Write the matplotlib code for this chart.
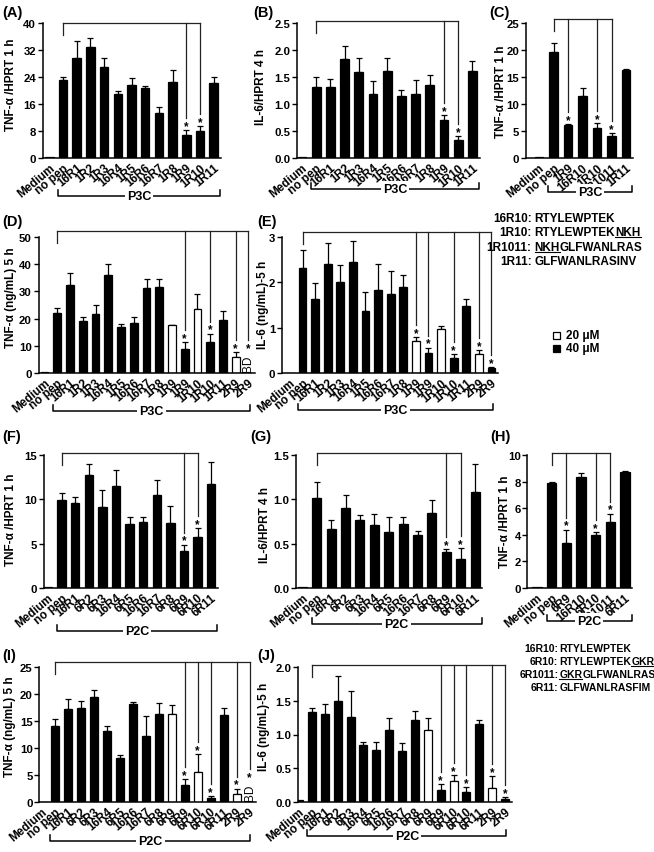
import numpy as np
import matplotlib
matplotlib.use("Agg")
import matplotlib.pyplot as plt
from matplotlib.patches import Rectangle
from matplotlib.lines import Line2D

plt.rcParams['font.family'] = ['Liberation Sans', 'DejaVu Sans']
plt.rcParams['font.weight'] = 'bold'

# ---------------- data ----------------
A_labels = ["Medium", "no pep", "16R1", "1R2", "1R3", "16R4", "1R5", "16R6", "16R7", "1R8", "1R9", "1R10", "1R11"]
A_mean = [0.2, 23.2, 29.6, 32.8, 27.1, 19.1, 21.6, 20.6, 13.2, 22.6, 6.7, 7.9, 22.2]
A_err = [0, 0.8, 5.0, 2.7, 2.6, 0.8, 2.1, 0.8, 2.0, 3.6, 1.6, 1.5, 1.9]
A_sig = [10, 11]

B_labels = A_labels
B_mean = [0.01, 1.32, 1.32, 1.83, 1.60, 1.19, 1.61, 1.15, 1.18, 1.36, 0.70, 0.33, 1.61]
B_err = [0, 0.18, 0.15, 0.25, 0.26, 0.24, 0.25, 0.11, 0.27, 0.18, 0.09, 0.08, 0.19]
B_sig = [10, 11]

C_labels = ["Medium", "no pep", "1R9", "16R10", "1R10", "1R1011", "1R11"]
C_mean = [0.1, 19.7, 6.1, 11.4, 5.6, 4.1, 16.3]
C_err = [0, 1.6, 0.25, 1.5, 0.8, 0.5, 0.1]
C_sig = [2, 4, 5]

D_labels = ["Medium", "no pep", "16R1", "1R2", "1R3", "16R4", "1R5", "16R6", "16R7", "1R8",
            "1R9", "1R9", "1R10", "1R10", "1R11", "2R9", "2R9"]
D_mean = [0.3, 22.0, 32.5, 19.2, 21.6, 35.9, 16.9, 18.5, 31.3, 31.6, 17.5, 8.7, 23.6, 11.3, 19.6, 5.9, 0]
D_err = [0, 2.0, 4.4, 1.4, 3.5, 4.3, 1.2, 2.0, 3.1, 2.8, 0.1, 2.7, 5.3, 3.2, 3.2, 1.7, 0]
D_20uM = [10, 12, 15]
D_sig = [11, 13, 15, 16]
D_bd = [16]

E_labels = D_labels
E_mean = [0.01, 2.32, 1.64, 2.41, 2.01, 2.44, 1.36, 1.82, 1.75, 1.90, 0.70, 0.44, 0.96, 0.33, 1.48, 0.43, 0.10]
E_err = [0, 0.39, 0.35, 0.46, 0.37, 0.48, 0.43, 0.58, 0.51, 0.27, 0.09, 0.12, 0.07, 0.08, 0.16, 0.07, 0.03]
E_20uM = [10, 12, 15]
E_sig = [10, 11, 13, 15, 16]

F_labels = ["Medium", "no pep", "16R1", "6R2", "6R3", "16R4", "6R5", "16R6", "16R7", "6R8", "6R9", "6R10", "6R11"]
F_mean = [0.1, 9.9, 9.6, 12.7, 9.1, 11.5, 7.2, 7.5, 10.5, 7.3, 4.2, 5.8, 11.7]
F_err = [0, 0.8, 0.7, 1.3, 2.0, 1.8, 0.8, 0.5, 1.7, 1.9, 0.7, 1.0, 2.5]
F_sig = [10, 11]

G_labels = F_labels
G_mean = [0.01, 1.02, 0.67, 0.90, 0.77, 0.71, 0.63, 0.72, 0.60, 0.85, 0.41, 0.33, 1.08]
G_err = [0, 0.17, 0.10, 0.15, 0.05, 0.12, 0.17, 0.08, 0.04, 0.14, 0.03, 0.12, 0.32]
G_sig = [10, 11]

H_labels = ["Medium", "no pep", "6R9", "16R10", "6R10", "6R1011", "6R11"]
H_mean = [0.05, 7.93, 3.39, 8.33, 3.99, 4.99, 8.75]
H_err = [0, 0.05, 1.0, 0.35, 0.2, 0.6, 0.05]
H_sig = [2, 4, 5]

I_labels = ["Medium", "no pep", "16R1", "6R2", "6R3", "16R4", "6R5", "16R6", "16R7", "6R8",
            "6R9", "6R9", "6R10", "6R10", "6R11", "2R9", "2R9"]
I_mean = [0, 14.0, 17.2, 17.5, 19.4, 13.1, 8.1, 18.2, 12.3, 16.3, 16.3, 3.1, 5.5, 0.7, 16.2, 1.55, 0]
I_err = [0, 1.3, 1.8, 1.2, 1.3, 1.0, 0.6, 0.4, 3.6, 2.0, 1.7, 1.2, 3.3, 0.4, 1.2, 0.95, 0]
I_20uM = [10, 12, 15]
I_sig = [11, 12, 13, 15, 16]
I_bd = [16]

J_labels = I_labels
J_mean = [0.03, 1.34, 1.31, 1.50, 1.26, 0.84, 0.77, 1.07, 0.75, 1.21, 1.07, 0.18, 0.31, 0.15, 1.15, 0.21, 0.05]
J_err = [0, 0.05, 0.14, 0.36, 0.38, 0.05, 0.12, 0.18, 0.12, 0.14, 0.18, 0.08, 0.09, 0.07, 0.07, 0.18, 0.02]
J_20uM = [10, 12, 15]
J_sig = [11, 12, 13, 15, 16]

P3C_seqs = [("16R10", [("RTYLEWPTEK", False)]),
            ("1R10", [("RTYLEWPTEK", False), ("NKH", True)]),
            ("1R1011", [("NKH", True), ("GLFWANLRAS", False)]),
            ("1R11", [("GLFWANLRASINV", False)])]
P2C_seqs = [("16R10", [("RTYLEWPTEK", False)]),
            ("6R10", [("RTYLEWPTEK", False), ("GKR", True)]),
            ("6R1011", [("GKR", True), ("GLFWANLRAS", False)]),
            ("6R11", [("GLFWANLRASFIM", False)])]

# ---------------- drawing ----------------
W, H = 654, 853
fig = plt.figure(figsize=(W / 100, H / 100), dpi=100)


def fx(x): return x / W
def fy(y): return 1 - y / H


def panel(tag, tagpos, labels, mean, err, ymax, ystep, ylabel, lab_xy, geom, sig,
          open_idx=(), bd=(), treat="P3C", top_off=2, br_y=38, br_r=None, fmt="{:g}"):
    spine, c0, sp, top, bottom = geom
    n = len(labels)
    x0 = -(c0 - spine) / sp
    x1 = n - 0.5
    wpx = (x1 - x0) * sp
    hpx = bottom - top
    ax = fig.add_axes([fx(spine), fy(bottom), wpx / W, hpx / H])
    dpp = ymax / hpx  # data units per pixel
    x = np.arange(n)
    colors = ['white' if i in open_idx else 'black' for i in range(n)]
    ax.bar(x, mean, width=0.62, color=colors, edgecolor='black', linewidth=0.9, zorder=2)
    m = np.array(err) > 0
    ax.errorbar(x[m], np.array(mean)[m], yerr=[np.zeros(m.sum()), np.array(err)[m]], fmt='none',
                ecolor='black', elinewidth=0.9, capsize=2.3, capthick=0.9, zorder=1)
    ax.set_xlim(x0, x1)
    ax.set_ylim(0, ymax)
    ticks = np.arange(0, ymax + ystep / 2, ystep)
    ax.set_yticks(ticks)
    ax.set_yticklabels([fmt.format(t) for t in ticks], fontsize=8.2, fontweight='bold')
    ax.set_xticks(x)
    ax.set_xticklabels(labels, rotation=40, ha='right', va='top', rotation_mode='anchor',
                       fontsize=8.5, fontweight='bold')
    ax.tick_params(axis='x', length=0, pad=2.5)
    ax.tick_params(axis='y', length=3.5, width=1, pad=1.2)
    for s in ['top', 'right']:
        ax.spines[s].set_visible(False)
    for s in ['left', 'bottom']:
        ax.spines[s].set_linewidth(1.1)
    ax.set_ylabel(ylabel, fontsize=8.5, fontweight='bold', va='center')
    ax.yaxis.set_label_coords((lab_xy[0] - spine) / wpx, (bottom - lab_xy[1]) / hpx)

    # significance bracket on top
    yl = ymax + top_off * dpp
    kw = dict(color='#222222', lw=0.9, clip_on=False)
    ax.plot([1, max(sig)], [yl, yl], **kw)
    ax.plot([1, 1], [yl - 12 * dpp, yl], **kw)
    for i in sig:
        if i in bd:
            ax.text(i, 1.5 * dpp, "BD", rotation=90, ha='center', va='bottom', fontsize=8.5,
                    fontweight='normal')
            t = 21 * dpp
        else:
            t = mean[i] + err[i]
        ax.text(i, t + 1 * dpp, "*", ha='center', va='baseline', fontsize=8.5, fontweight='bold')
        ax.plot([i, i], [t + 12 * dpp, yl], **kw)

    # treatment bracket below
    if br_r is None:
        br_r = n - 1 + 0.45
    yb = -br_y * dpp
    ax.plot([0.65, 0.65, br_r, br_r], [yb + 6 * dpp, yb, yb, yb + 6 * dpp], color='black', lw=1.1,
            clip_on=False)
    ax.text((0.65 + br_r) / 2, yb, treat, ha='center', va='center', fontsize=9, fontweight='bold',
            bbox=dict(fc='white', ec='none', pad=1.5))
    fig.text(fx(tagpos[0]), fy(tagpos[1]), tag, ha='left', va='center', fontsize=10.5, fontweight='bold')
    return ax


panel("(A)", (2, 13), A_labels, A_mean, A_err, 40, 8, "TNF-\u03b1 /HPRT 1 h", (11, 85),
      (42.7, 49.3, 13.7, 24, 159), A_sig, top_off=0, br_y=38)
panel("(B)", (253, 13), B_labels, B_mean, B_err, 2.5, 0.5, "IL-6/HPRT 4 h", (260.5, 87),
      (297, 302, 14.2, 24, 159), B_sig, top_off=2, br_y=31, fmt="{:.1f}")
panel("(C)", (489, 13), C_labels, C_mean, C_err, 25, 5, "TNF-\u03b1 /HPRT 1 h", (501, 92),
      (526, 539, 14.5, 24, 159), C_sig, top_off=4, br_y=34, br_r=6.4)
panel("(D)", (2, 222), D_labels, D_mean, D_err, 50, 10, "TNF-\u03b1 (ng/mL) 5 h", (11, 298),
      (38.5, 44.5, 12.75, 238, 374), D_sig, open_idx=D_20uM, bd=D_bd, top_off=6, br_y=38, br_r=16.1)
panel("(E)", (257, 222), E_labels, E_mean, E_err, 3, 1, "IL-6 (ng/mL)-5 h", (263, 305),
      (281.7, 289.9, 12.6, 238, 374), E_sig, open_idx=E_20uM, top_off=5, br_y=37, br_r=16.1)
panel("(F)", (2, 437), F_labels, F_mean, F_err, 15, 5, "TNF-\u03b1 /HPRT 1 h", (11, 520),
      (44, 48, 13.6, 456, 589), F_sig, treat="P2C", top_off=2, br_y=43)
panel("(G)", (250, 437), G_labels, G_mean, G_err, 1.5, 0.5, "IL-6/HPRT 4 h", (264.5, 525),
      (296, 302.3, 14.4, 456, 589), G_sig, treat="P2C", top_off=2, br_y=36, fmt="{:.1f}")
panel("(H)", (490, 437), H_labels, H_mean, H_err, 10, 2, "TNF-\u03b1 /HPRT 1 h", (505, 522),
      (527.3, 537, 14.66, 456, 589), H_sig, treat="P2C", top_off=2, br_y=33, br_r=6.45)
panel("(I)", (2, 656), I_labels, I_mean, I_err, 25, 5, "TNF-\u03b1 (ng/mL) 5 h", (10, 727),
      (39.3, 42, 12.97, 668, 803), I_sig, open_idx=I_20uM, bd=I_bd, treat="P2C", top_off=5, br_y=39,
      br_r=16.05)
panel("(J)", (257, 656), J_labels, J_mean, J_err, 2.0, 0.5, "IL-6 (ng/mL)-5 h", (264.5, 727),
      (297.7, 299, 12.88, 668, 803), J_sig, open_idx=J_20uM, treat="P2C", top_off=2, br_y=34,
      br_r=16.1, fmt="{:.1f}")

# legend (20 / 40 uM)
for yy, fc, lab in [(336, 'white', "20 \u03bcM"), (349.5, 'black', "40 \u03bcM")]:
    fig.add_artist(Rectangle((fx(553), fy(yy + 3.5)), 7 / W, 7 / H, transform=fig.transFigure,
                             fc=fc, ec='black', lw=0.9))
    fig.text(fx(566), fy(yy), lab, ha='left', va='center', fontsize=8.5, fontweight='bold')

# peptide sequences
renderer = fig.canvas.get_renderer()


def seq_block(rows, xc, baselines, fs, gap):
    for (name, parts), yb in zip(rows, baselines):
        fig.text(fx(xc), fy(yb), name + ":", ha='right', va='baseline', fontsize=fs, fontweight='bold')
        xx = xc + gap
        for txt, ul in parts:
            t = fig.text(fx(xx), fy(yb), txt, ha='left', va='baseline', fontsize=fs, fontweight='bold')
            w = t.get_window_extent(renderer).width
            if ul:
                fig.add_artist(Line2D([fx(xx), fx(xx + w)], [fy(yb + 2.2)] * 2,
                                      transform=fig.transFigure, color='black', lw=0.8))
            xx += w


seq_block(P3C_seqs, 531.7, [222, 236, 251, 265], 8.5, 3)
seq_block(P2C_seqs, 558.3, [652, 665, 678, 691], 7.5, 1)

fig.savefig("out.png", dpi=100)
